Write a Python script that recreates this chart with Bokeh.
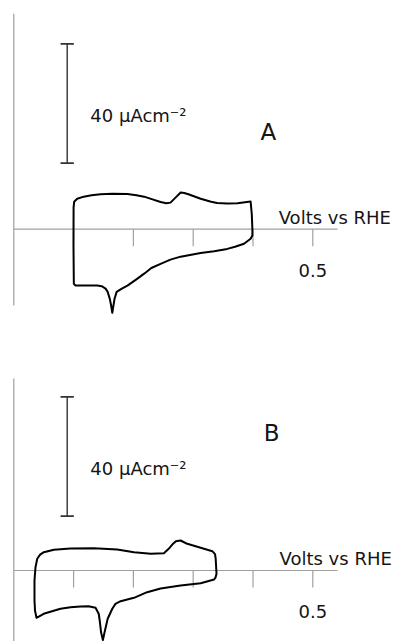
from bokeh.plotting import figure
from bokeh.layouts import column
from bokeh.embed import file_html
from bokeh.resources import INLINE
from bokeh.core.properties import value

# ---- data: cyclic voltammograms (potential in V vs RHE, current density in µA cm^-2)
volts_a = [0.100, 0.101, 0.106, 0.117, 0.130, 0.145, 0.165, 0.190, 0.205, 0.218,
           0.232, 0.2455, 0.255, 0.262, 0.270, 0.279, 0.285, 0.292, 0.3125, 0.330,
           0.340, 0.357, 0.374, 0.396, 0.398, 0.399, 0.399, 0.396, 0.385, 0.370,
           0.357, 0.335, 0.3125, 0.279, 0.262, 0.2455, 0.230, 0.218, 0.205, 0.190,
           0.180, 0.172, 0.1685, 0.1665, 0.1647, 0.1627, 0.1607, 0.157, 0.1535, 0.147,
           0.1396, 0.120, 0.1033, 0.1004, 0.0998, 0.100]
current_a = [7.4, 9.2, 10.2, 10.9, 11.4, 11.7, 11.9, 11.8, 11.4, 10.9,
             10.0, 9.1, 8.7, 8.9, 10.5, 12.3, 12.1, 11.7, 10.2, 9.2,
             8.8, 8.6, 8.7, 9.3, 5.0, 0.0, -2.1, -3.2, -4.9, -5.9,
             -6.6, -7.4, -8.0, -9.2, -10.2, -11.6, -13.0, -14.9, -16.8, -18.9,
             -20.0, -21.0, -23.3, -25.8, -28.0, -25.5, -23.5, -21.0, -19.9, -19.1,
             -18.9, -18.9, -18.9, -18.3, -5.0, 7.4]

volts_b = [0.0363, 0.0392, 0.0440, 0.0502, 0.0669, 0.0949, 0.134, 0.173, 0.201, 0.229,
           0.251, 0.259, 0.266, 0.271, 0.279, 0.290, 0.3125, 0.332, 0.3365, 0.3376,
           0.339, 0.3375, 0.335, 0.3125, 0.279, 0.2455, 0.223, 0.201, 0.1786, 0.170,
           0.1647, 0.157, 0.1518, 0.149, 0.146, 0.1435, 0.142, 0.1367, 0.125, 0.1116,
           0.095, 0.078, 0.050, 0.038, 0.0355, 0.0346, 0.0346, 0.0363]
current_b = [1.11, 3.92, 5.3, 6.13, 6.93, 7.37, 7.47, 7.04, 6.13, 5.59,
             5.79, 7.27, 8.9, 9.82, 10.05, 8.94, 7.60, 6.47, 5.5, 4.0,
             -1.11, -2.3, -3.02, -4.25, -5.03, -6.03, -7.27, -9.15, -10.29, -11.2,
             -12.83, -16.18, -20.67, -23.3, -20.8, -16.5, -14.5, -12.5, -12.0, -12.06,
             -12.3, -12.83, -14.5, -15.85, -13.5, -10.05, -3.35, 1.11]

tick_volts = [0.1, 0.2, 0.3, 0.4, 0.5]
tick_labels = ["", "", "", "", "0.5"]
scale_bar_current = 40
x_title = "Volts vs RHE"
scale_title = "40 \u00b5Acm\u207b\u00b2"
panel_names = ["A", "B"]

FONT = value("DejaVu Sans")
AXIS_COLOR = "#a0a0a0"
INK = "#151515"
X_RANGE = (-0.02224, 0.640)
AXIS_END = 0.5413
TICK_LEN = 5.7


def panel(volts, current, name, height, y_range, vtop, vbot, bar_bottom,
          scale_base, name_xy, title_xy, ticklab_base):
    p = figure(width=396, height=height, x_range=X_RANGE, y_range=y_range,
               output_backend="svg", toolbar_location=None, min_border=0,
               x_axis_type=None, y_axis_type=None, outline_line_color=None,
               background_fill_color="white", border_fill_color="white")
    # axes drawn through the data scales
    p.segment(x0=[0.0], y0=[vbot], x1=[0.0], y1=[vtop], line_color=AXIS_COLOR, line_width=1.2)
    p.segment(x0=[0.0], y0=[0.0], x1=[AXIS_END], y1=[0.0], line_color=AXIS_COLOR, line_width=1.2)
    p.segment(x0=tick_volts, y0=[0.0] * len(tick_volts), x1=tick_volts,
              y1=[-TICK_LEN] * len(tick_volts), line_color=AXIS_COLOR, line_width=1.2)
    p.text(x=tick_volts, y=[ticklab_base] * len(tick_volts), text=tick_labels,
           text_font=FONT, text_font_size="18px", text_align="center",
           text_baseline="alphabetic", text_color=INK)
    # scale bar
    bx = 0.0893
    cap = 0.0111
    p.segment(x0=[bx], y0=[bar_bottom], x1=[bx], y1=[bar_bottom + scale_bar_current],
              line_color="#333333", line_width=1.4)
    p.segment(x0=[bx - cap, bx - cap], y0=[bar_bottom, bar_bottom + scale_bar_current],
              x1=[bx + cap, bx + cap], y1=[bar_bottom, bar_bottom + scale_bar_current],
              line_color="#333333", line_width=1.8)
    p.text(x=[0.128], y=[scale_base], text=[scale_title], text_font=FONT,
           text_font_size="18px", text_align="left", text_baseline="alphabetic",
           text_color=INK)
    # labels
    p.text(x=[name_xy[0]], y=[name_xy[1]], text=[name], text_font=FONT,
           text_font_size="23px", text_align="center", text_baseline="middle",
           text_color=INK)
    p.text(x=[title_xy[0]], y=[title_xy[1]], text=[x_title], text_font=FONT,
           text_font_size="18px", text_align="left", text_baseline="alphabetic",
           text_color=INK)
    # voltammogram
    p.line(x=volts, y=current, line_color="black", line_width=2.0, line_join="round")
    return p


pa = panel(volts_a, current_a, panel_names[0], 338, (-36.62, 76.62),
           72.16, -25.56, 22.11, 38.09, (0.4259, 32.4), (0.443, 3.92), -13.84)
pb = panel(volts_b, current_b, panel_names[1], 303, (-23.79, 77.72),
           64.32, -30.0, 18.19, 34.17, (0.431, 45.9), (0.4444, 4.12), -13.7)

layout = column(pa, pb, spacing=0)
open("out.html", "w").write(file_html(layout, INLINE))
